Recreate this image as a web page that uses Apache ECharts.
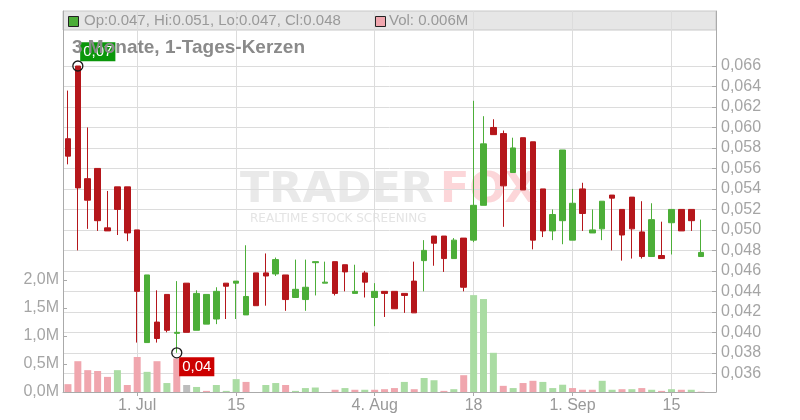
<!DOCTYPE html>
<html><head><meta charset="utf-8">
<script src="https://cdn.jsdelivr.net/npm/echarts@6/dist/echarts.min.js"></script>
<style>html,body{margin:0;padding:0;background:#fff}#c{width:800px;height:420px}</style>
</head><body><div id="c"></div>
<script>
const dates = [
 '2025-06-20','2025-06-23','2025-06-24','2025-06-25','2025-06-26','2025-06-27','2025-06-30',
 '2025-07-01','2025-07-02','2025-07-03','2025-07-04','2025-07-07','2025-07-08','2025-07-09','2025-07-10','2025-07-11',
 '2025-07-14','2025-07-15','2025-07-16','2025-07-17','2025-07-18','2025-07-21','2025-07-22','2025-07-23','2025-07-24','2025-07-25',
 '2025-07-28','2025-07-29','2025-07-30','2025-07-31','2025-08-01','2025-08-04','2025-08-05','2025-08-06','2025-08-07','2025-08-08',
 '2025-08-11','2025-08-12','2025-08-13','2025-08-14','2025-08-15','2025-08-18','2025-08-19','2025-08-20','2025-08-21','2025-08-22',
 '2025-08-25','2025-08-26','2025-08-27','2025-08-28','2025-08-29','2025-09-01','2025-09-02','2025-09-03','2025-09-04','2025-09-05',
 '2025-09-08','2025-09-09','2025-09-10','2025-09-11','2025-09-12','2025-09-15','2025-09-16','2025-09-17','2025-09-18','2025-09-19'
];
const opens = [
 0.0589,0.0660,0.0550,0.0560,0.0502,0.0542,0.0542,0.0500,0.0390,0.0410,
 0.0437,0.0399,0.0448,0.0402,0.0408,0.0413,0.0448,0.0448,0.0417,0.0458,
 0.0458,0.0457,0.0456,0.0434,0.0432,0.0468,0.0448,0.0469,0.0466,0.0438,
 0.0458,0.0434,0.0440,0.0440,0.0438,0.0450,0.0470,0.0494,0.0494,0.0472,
 0.0492,0.0490,0.0524,0.0600,0.0594,0.0556,0.0590,0.0586,0.0540,0.0499,
 0.0509,0.0490,0.0540,0.0497,0.0501,0.0534,0.0520,0.0532,0.0498,0.0474,
 0.0475,0.0507,0.0520,0.0520,0.0474
];
const closes = [
 0.0572,0.0541,0.0529,0.0509,0.0499,0.0520,0.0497,0.0440,0.0456,0.0394,
 0.0402,0.0400,0.0400,0.0438,0.0437,0.0440,0.0445,0.0450,0.0435,0.0426,
 0.0455,0.0471,0.0432,0.0442,0.0444,0.0469,0.0449,0.0438,0.0459,0.0440,
 0.0449,0.0440,0.0438,0.0423,0.0436,0.0419,0.0480,0.0487,0.0472,0.0490,
 0.0444,0.0524,0.0584,0.0593,0.0543,0.0580,0.0539,0.0490,0.0499,0.0515,
 0.0578,0.0526,0.0516,0.0500,0.0528,0.0531,0.0495,0.0501,0.0474,0.0510,
 0.0472,0.0520,0.0499,0.0509,0.0478
];
const lows = [
 0.0564,0.0480,0.0501,0.0499,0.0499,0.0495,0.0489,0.0390,0.0390,0.0390,
 0.0400,0.0380,0.0400,0.0402,0.0408,0.0408,0.0413,0.0413,0.0417,0.0426,
 0.0426,0.0455,0.0421,0.0434,0.0421,0.0436,0.0448,0.0436,0.0440,0.0438,
 0.0434,0.0406,0.0415,0.0423,0.0419,0.0419,0.0440,0.0465,0.0459,0.0472,
 0.0440,0.0488,0.0524,0.0593,0.0503,0.0556,0.0539,0.0481,0.0493,0.0490,
 0.0486,0.0490,0.0499,0.0497,0.0490,0.0480,0.0470,0.0472,0.0472,0.0474,
 0.0472,0.0476,0.0499,0.0499,0.0474
];
const highs = [
 0.0636,0.0660,0.0600,0.0560,0.0538,0.0542,0.0542,0.0500,0.0456,0.0441,
 0.0437,0.0450,0.0448,0.0441,0.0437,0.0444,0.0448,0.0450,0.0485,0.0458,
 0.0477,0.0473,0.0456,0.0471,0.0471,0.0469,0.0469,0.0469,0.0466,0.0466,
 0.0460,0.0448,0.0440,0.0440,0.0438,0.0469,0.0490,0.0494,0.0494,0.0492,
 0.0492,0.0626,0.0611,0.0608,0.0597,0.0590,0.0590,0.0586,0.0540,0.0520,
 0.0578,0.0540,0.0546,0.0520,0.0528,0.0534,0.0520,0.0532,0.0528,0.0526,
 0.0508,0.0520,0.0520,0.0520,0.0510
];
const volumes = [
 140000,550000,390000,375000,270000,390000,125000,625000,360000,550000,
 160000,600000,125000,90000,20000,125000,20000,230000,180000,0,
 125000,160000,125000,20000,70000,80000,0,40000,70000,40000,
 40000,40000,50000,70000,180000,50000,250000,210000,20000,50000,
 300000,1730000,1660000,700000,110000,70000,160000,200000,180000,70000,
 130000,70000,40000,40000,200000,40000,50000,50000,70000,40000,
 20000,50000,40000,40000,6000
];
const tickDates = ['2025-07-01','2025-07-15','2025-08-04','2025-08-18','2025-09-01','2025-09-15'];
const tickLabels = ['1. Jul','15','4. Aug','18','1. Sep','15'];

const UP='#4cae38', DOWN='#b5161b', VUP='#aadca3', VDOWN='#f0a6ae', VFLAT='#bdbdbd';
const FONT='"Liberation Sans", Arial, sans-serif';
const candles = opens.map((o,i)=>[o, closes[i], lows[i], highs[i]]);
const volData = volumes.map((v,i)=>{
  let c = VDOWN;
  if (i>0) { if (closes[i]>closes[i-1]) c=VUP; else if (closes[i]===closes[i-1]) c=VFLAT; }
  return {value:v, itemStyle:{color:c}};
});
const isTick = (idx, val) => tickDates.indexOf(val) >= 0;
const last = opens.length-1;
const f3 = v => v.toFixed(3);
const headerText = 'Op:'+f3(opens[last])+', Hi:'+f3(highs[last])+', Lo:'+f3(lows[last])+', Cl:'+f3(closes[last]);
const volText = 'Vol: '+(volumes[last]/1e6).toFixed(3)+'M';

const L=63, R=84, T=11, B=28;
const bw=(800-L-R)/dates.length;
const chart = echarts.init(document.getElementById('c'));
chart.setOption({
  animation:false,
  grid:[
    {left:L,right:R,top:T,bottom:B},
    {left:L+bw/2,right:R+bw/2,top:T,bottom:B},
    {left:L,right:R,top:66,bottom:46.7},
    {left:L,right:R,top:280,bottom:B}
  ],
  xAxis:[
    {gridIndex:0,type:'category',data:dates,boundaryGap:true,axisLine:{show:true,lineStyle:{color:'#aaa'}},axisTick:{show:false},axisLabel:{show:false},splitLine:{show:false}},
    {gridIndex:1,type:'category',data:dates,boundaryGap:false,axisLine:{show:false},
      axisTick:{show:true,interval:isTick,length:4,lineStyle:{color:'#aaa'}},
      axisLabel:{interval:isTick,formatter:v=>tickLabels[tickDates.indexOf(v)],color:'#999',fontSize:16,fontFamily:FONT,margin:6},
      splitLine:{show:true,interval:isTick,lineStyle:{color:'#dcdcdc'}}},
    {gridIndex:2,type:'category',data:dates,boundaryGap:true,show:false},
    {gridIndex:3,type:'category',data:dates,boundaryGap:true,show:false}
  ],
  yAxis:[
    {gridIndex:0,type:'value',position:'left',min:0,max:1,axisLine:{show:true,lineStyle:{color:'#aaa'}},axisTick:{show:false},axisLabel:{show:false},splitLine:{show:false}},
    {gridIndex:0,type:'value',position:'right',min:0,max:1,axisLine:{show:true,lineStyle:{color:'#aaa'}},axisTick:{show:false},axisLabel:{show:false},splitLine:{show:false}},
    {gridIndex:1,type:'value',show:false},
    {gridIndex:2,type:'value',position:'right',min:0.036,max:0.066,interval:0.002,
      axisLine:{show:false},axisTick:{show:true,inside:true,length:4,lineStyle:{color:'#aaa'}},
      axisLabel:{color:'#a5a5a5',fontSize:16,fontFamily:FONT,margin:5,formatter:v=>v.toFixed(3).replace('.',',')},
      splitLine:{show:true,lineStyle:{color:'#dcdcdc'}}},
    {gridIndex:3,type:'value',position:'left',min:0,max:2000000,interval:500000,
      axisLine:{show:false},axisTick:{show:true,inside:true,length:4,lineStyle:{color:'#aaa'}},
      axisLabel:{color:'#a5a5a5',fontSize:16,fontFamily:FONT,margin:4,formatter:v=>(v/1e6).toFixed(1).replace('.',',')+'M'},
      splitLine:{show:false}}
  ],
  graphic:{elements:[
    {type:'rect',z:-10,shape:{x:63,y:11,width:653,height:19},style:{fill:'#e6e6e6',stroke:'#c8c8c8',lineWidth:1}},
    {type:'text',z:-10,x:240,y:191,style:{text:'TRADER',fill:'#e9e9e9',font:'bold 43px "DejaVu Sans"',verticalAlign:'middle'}},
    {type:'text',z:-10,x:440,y:191,style:{text:'FOX',fill:'#fcd6d9',font:'bold 43px "DejaVu Sans"',verticalAlign:'middle'}},
    {type:'text',z:-10,x:250,y:219,style:{text:'REALTIME STOCK SCREENING',fill:'#e4e4e4',font:'12px "DejaVu Sans"',verticalAlign:'middle'}},
    {type:'rect',z:5,shape:{x:68.5,y:16.5,width:10,height:10},style:{fill:UP,stroke:'#222',lineWidth:1}},
    {type:'text',z:5,x:84,y:21,style:{text:headerText,fill:'#999',font:'15px '+FONT,verticalAlign:'middle'}},
    {type:'rect',z:5,shape:{x:375.5,y:16.5,width:10,height:10},style:{fill:VDOWN,stroke:'#222',lineWidth:1}},
    {type:'text',z:5,x:389,y:21,style:{text:volText,fill:'#999',font:'15px '+FONT,verticalAlign:'middle'}},
    {type:'text',z:20,x:72,y:48,style:{text:'3 Monate, 1-Tages-Kerzen',fill:'#8a8a8a',font:'bold 19px '+FONT,verticalAlign:'middle'}}
  ]},
  series:[
    {type:'bar',xAxisIndex:3,yAxisIndex:4,data:volData,barWidth:7,silent:true},
    {type:'candlestick',xAxisIndex:2,yAxisIndex:3,data:candles,barWidth:6,silent:true,
      itemStyle:{color:UP,color0:DOWN,borderColor:UP,borderColor0:DOWN,borderWidth:1},
      markPoint:{
        symbol:'circle',symbolSize:10,silent:true,
        itemStyle:{color:'rgba(255,255,255,0)',borderColor:'#1a1a1a',borderWidth:1.3},
        label:{show:true,color:'#fff',fontSize:15,fontFamily:FONT,lineHeight:15,padding:[2,3,2,3],align:'left',verticalAlign:'top',
          formatter:p=>p.value.toFixed(2).replace('.',',')},
        data:[
          {type:'max',valueDim:'highest',label:{position:[8,-18],backgroundColor:'#0a970a'}},
          {type:'min',valueDim:'lowest',label:{position:[8,10],backgroundColor:'#cc0000'}}
        ]
      }}
  ]
});
</script></body></html>
